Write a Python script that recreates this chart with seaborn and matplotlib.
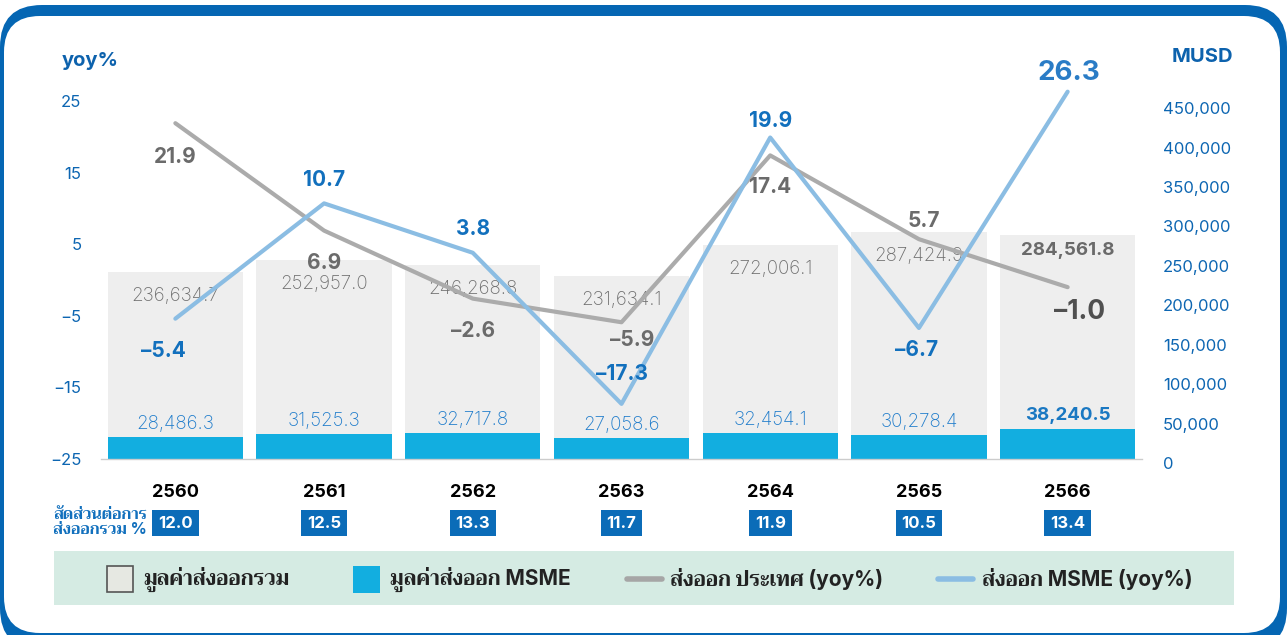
import numpy as np
import matplotlib
matplotlib.use('Agg')
import matplotlib.pyplot as plt
import matplotlib.transforms as mtransforms
import seaborn as sns
from matplotlib import font_manager
from matplotlib.ft2font import FT2Font
from matplotlib.patches import FancyBboxPatch, Rectangle
from matplotlib.lines import Line2D
from matplotlib.ticker import FuncFormatter

# data
years = ['2560', '2561', '2562', '2563', '2564', '2565', '2566']
total_export = [236634.7, 252957.0, 246268.8, 231634.1, 272006.1, 287424.9, 284561.8]
msme_export = [28486.3, 31525.3, 32717.8, 27058.6, 32454.1, 30278.4, 38240.5]
total_yoy = [21.9, 6.9, -2.6, -5.9, 17.4, 5.7, -1.0]
msme_yoy = [-5.4, 10.7, 3.8, -17.3, 19.9, -6.7, 26.3]
msme_share = [12.0, 12.5, 13.3, 11.7, 11.9, 10.5, 13.4]

# label offsets in pixels (layout only)
total_yoy_off = [(0, -34), (0, -32), (0, -32), (11, -18), (0, -32), (5, 18), (12, -25)]
msme_yoy_off = [(-12, -32), (0, 23), (0, 24), (0, 30), (0, 17), (-2, -22), (1, 19)]


def find_thai_font():
    names = []
    for f in font_manager.fontManager.ttflist:
        try:
            cmap = FT2Font(f.fname).get_charmap()
        except Exception:
            continue
        if 0x0E21 in cmap and 0x0E48 in cmap:
            names.append((f.weight if isinstance(f.weight, int) else 400, f.name))
    if not names:
        return None
    names.sort(reverse=True)
    return names[0][1]


sns.set_theme(style='white')
thai = find_thai_font()
fams = ['Inter'] + ([thai] if thai else []) + ['DejaVu Sans']
plt.rcParams['font.family'] = fams

BLUE_TXT = '#0d66b2'
fig = plt.figure(figsize=(12.87, 6.35), dpi=100)

# background frame and legend band (pixel coordinates)
bg = fig.add_axes([0, 0, 1, 1], zorder=0)
bg.set_xlim(0, 1287)
bg.set_ylim(635, 0)
bg.axis('off')
bg.add_patch(FancyBboxPatch((0, 5), 1287, 645, boxstyle='round,pad=0,rounding_size=42',
                            fc='#0566b3', ec='none'))
bg.add_patch(FancyBboxPatch((4, 16), 1276, 617, boxstyle='round,pad=0,rounding_size=36',
                            fc='white', ec='none'))
bg.add_patch(Rectangle((54, 551), 1180, 54, fc='#d5ebe3', ec='none'))

# main axes: bars (MUSD) with yoy lines on a twin axis drawn on top
ax = fig.add_axes([101 / 1287, 1 - 459 / 635, 1041 / 1287, 358 / 635], zorder=1)
ax.set_facecolor('none')
sns.barplot(x=years, y=total_export, color='#eeeeee', width=0.91, saturation=1,
            linewidth=0, ax=ax)
sns.barplot(x=years, y=msme_export, color='#12aee0', width=0.91, saturation=1,
            linewidth=0, ax=ax)
ax.set_xlim(-0.5, 6.5)
ax.set_ylim(0, 454000)
ax.set_yticks(np.arange(0, 450001, 50000))
ax.yaxis.set_major_formatter(FuncFormatter(lambda v, p: f'{int(v):,}'))
ax.set_xticks(range(len(years)))
ax.set_xticklabels(years, fontweight='bold', fontsize=13, color='black')
ax.set_xticks(np.arange(-0.5, len(years), 1), minor=True)
ax.tick_params(axis='x', which='major', length=0, pad=18)
ax.tick_params(axis='x', which='minor', length=8, width=1, color='#cccccc', direction='out')
ax.set_xlabel('')
ax.set_ylabel('')
for s in ['top', 'left', 'right']:
    ax.spines[s].set_visible(False)
ax.spines['bottom'].set_color('#cccccc')
ax.spines['bottom'].set_linewidth(1)

for i, v in enumerate(total_export):
    last = i == len(total_export) - 1
    ax.annotate(f'{v:,.1f}', xy=(i, v), xytext=(0, -16 if last else -24),
                textcoords='offset pixels', ha='center', va='center',
                fontsize=13.5, color='#6a6a6a' if last else '#707070',
                fontweight='bold' if last else 'light')
for i, v in enumerate(msme_export):
    last = i == len(msme_export) - 1
    ax.annotate(f'{v:,.1f}', xy=(i, v), xytext=(0, 13), textcoords='offset pixels',
                ha='center', va='center', fontsize=13.5,
                color='#1a78c2' if last else '#1f7ccb',
                fontweight='bold' if last else 'light')

# share boxes under the year labels
trans = mtransforms.blended_transform_factory(ax.transData, ax.transAxes)
for i, s in enumerate(msme_share):
    ax.text(i, -0.179, f'{s:.1f}', transform=trans, ha='center', va='center',
            fontsize=12, fontweight='bold', color='white',
            bbox=dict(boxstyle='square,pad=0.35', fc='#0b6cb8', ec='none'))

ax2 = ax.twinx()
ax2.set_ylim(-25, 25)
sns.lineplot(x=np.arange(len(years)), y=total_yoy, color='#ababab', linewidth=3, ax=ax2)
sns.lineplot(x=np.arange(len(years)), y=msme_yoy, color='#8bbde3', linewidth=3, ax=ax2)
for ln in ax2.lines:
    ln.set_clip_on(False)
ax2.set_yticks([-25, -15, -5, 5, 15, 25])
ax2.yaxis.tick_left()
ax2.tick_params(axis='y', length=0, pad=14, labelsize=12, labelcolor=BLUE_TXT)
ax2.set_ylabel('')
for s in ax2.spines.values():
    s.set_visible(False)

# twinx moves the original ticks to the left, so put them back on the right
ax.yaxis.tick_right()
ax.tick_params(axis='y', length=0, pad=15, labelsize=12, labelcolor=BLUE_TXT)
shift = mtransforms.ScaledTranslation(0, -4 / 100, fig.dpi_scale_trans)
for lab in ax.get_yticklabels(which='both'):
    lab.set_transform(lab.get_transform() + shift)

for i, (v, (dx, dy)) in enumerate(zip(total_yoy, total_yoy_off)):
    last = i == len(total_yoy) - 1
    ax2.annotate(f'{v:.1f}'.replace('-', '\u2013'), xy=(i, v), xytext=(dx, dy),
                 textcoords='offset pixels', ha='center', va='center',
                 fontsize=19 if last else 15, fontweight='bold', annotation_clip=False,
                 color='#505050' if last else '#6b6b6b')
for i, (v, (dx, dy)) in enumerate(zip(msme_yoy, msme_yoy_off)):
    last = i == len(msme_yoy) - 1
    ax2.annotate(f'{v:.1f}'.replace('-', '\u2013'), xy=(i, v), xytext=(dx, dy),
                 textcoords='offset pixels', ha='center', va='center',
                 fontsize=20 if last else 15, fontweight='bold', annotation_clip=False,
                 color='#2a7cc6' if last else '#1270bd')

# axis titles
fig.text(62 / 1287, 1 - 61 / 635, 'yoy%', ha='left', va='center', fontsize=14.5,
         fontweight='bold', color='#0d62ad')
fig.text(1172 / 1287, 1 - 57 / 635, 'MUSD', ha='left', va='center', fontsize=14.5,
         fontweight='bold', color='#0d62ad')
fig.text(147 / 1287, 1 - 522 / 635, 'สัดส่วนต่อการ\nส่งออกรวม %', ha='right', va='center',
         fontsize=11.5, fontweight='bold', color='#1270bd', linespacing=0.95)

# legend
bg.add_patch(Rectangle((107, 566), 26, 26, fc='#e6e8e2', ec='#555555', lw=1.2))
bg.add_patch(Rectangle((353, 566), 27, 27, fc='#12aee0', ec='none'))
bg.add_line(Line2D([627, 662], [579, 579], lw=4, color='#a6a6a6'))
bg.add_line(Line2D([938, 973], [579, 579], lw=4, color='#8bbde3'))
for x, t in [(143, 'มูลค่าส่งออกรวม'), (390, 'มูลค่าส่งออก MSME'),
             (670, 'ส่งออก ประเทศ (yoy%)'), (982, 'ส่งออก MSME (yoy%)')]:
    bg.text(x, 579, t, ha='left', va='center', fontsize=15, fontweight='bold', color='#222222')

fig.savefig('out.png', dpi=100)
